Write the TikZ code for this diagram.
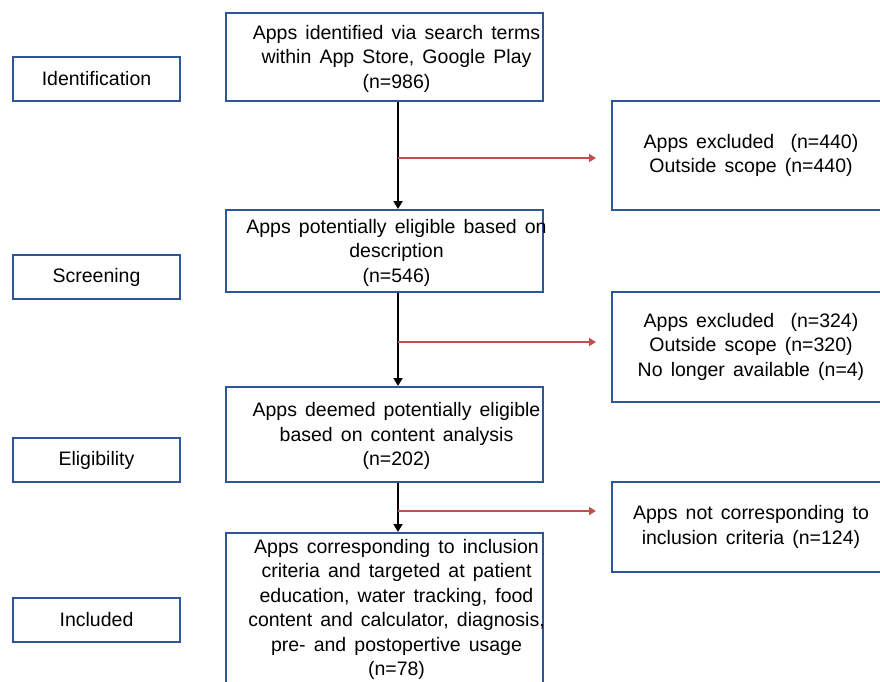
\documentclass[tikz,border=0pt]{standalone}
\usepackage{fontspec}
\setmainfont{Liberation Sans}[WordSpace=1.5]
\usetikzlibrary{arrows.meta}
\definecolor{boxblue}{HTML}{2F5597}
\definecolor{arrred}{HTML}{C0504D}
\begin{document}
\begin{tikzpicture}[x=1pt,y=-1pt,
  box/.style={draw=boxblue,line width=2pt,fill=white,align=center,inner sep=0pt,
    font=\fontsize{19.5}{24.5}\selectfont},
  txt/.style={align=center,inner sep=0pt,font=\fontsize{19.5}{24.5}\selectfont},
  stagebox/.style={box,minimum width=167pt,minimum height=44pt},
  mainbox/.style={box,minimum width=317pt},
  sidebox/.style={box,minimum width=278pt},
  flow/.style={line width=2pt,-{Triangle[width=9pt,length=8pt]}},
  excl/.style={draw=arrred,line width=2pt,-{Triangle[width=8pt,length=7pt]}}]
\useasboundingbox (0,0) rectangle (880,682);
% stage labels
\node[stagebox] (s1) at (96.5,79) {Identification};
\node[stagebox] (s2) at (96.5,277) {Screening};
\node[stagebox] (s3) at (96.5,460) {Eligibility};
\node[stagebox] (s4) at (96.5,620) {Included};
% main boxes
\node[mainbox,minimum height=88pt] (b1) at (384.5,57) {};
\node[txt] (b1t) at (396.5,58.5) {Apps identified via search terms\\within App Store, Google Play\\(n=986)};
\node[mainbox,minimum height=82pt] (b2) at (384.5,251) {};
\node[txt] (b2t) at (396.5,252.5) {Apps potentially eligible based on\\description\\(n=546)};
\node[mainbox,minimum height=95pt] (b3) at (384.5,434.5) {};
\node[txt] (b3t) at (396.5,436) {Apps deemed potentially eligible\\based on content analysis\\(n=202)};
\node[mainbox,minimum height=170pt,anchor=north] (b4) at (384.5,532) {};
\node[txt,anchor=north] (b4t) at (396.5,539) {Apps corresponding to inclusion\\criteria and targeted at patient\\education, water tracking, food\\content and calculator, diagnosis,\\pre- and postopertive usage\\(n=78)};
% side boxes
\node[sidebox,minimum height=109pt] (e1) at (751,155.5) {Apps excluded\ \ (n=440)\\Outside scope (n=440)};
\node[sidebox,minimum height=110pt] (e2) at (751,346.5) {Apps excluded\ \ (n=324)\\Outside scope (n=320)\\No longer available (n=4)};
\node[sidebox,minimum height=90pt] (e3) at (751,527) {Apps not corresponding to\\inclusion criteria (n=124)};
% flow
\coordinate (v) at (398,0);
\draw[flow] (b1.south -| v) -- (b2.north -| v);
\draw[flow] (b2.south -| v) -- (b3.north -| v);
\draw[flow] (b3.south -| v) -- (b4.north -| v);
\coordinate (r1) at (398,158);
\coordinate (r2) at (398,342);
\coordinate (r3) at (398,511);
\draw[excl,shorten >=15pt] (r1) -- (r1 -| e1.west);
\draw[excl,shorten >=15pt] (r2) -- (r2 -| e2.west);
\draw[excl,shorten >=15pt] (r3) -- (r3 -| e3.west);
\end{tikzpicture}
\end{document}
